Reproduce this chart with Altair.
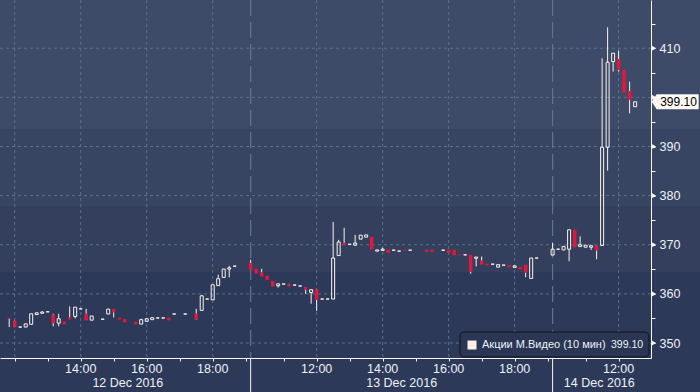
import altair as alt
import pandas as pd
import numpy as np

# ---------------- data ----------------
DAYS = ["12 Dec 2016", "13 Dec 2016", "14 Dec 2016"]
SESSION_OPEN = 10.0      # 10:00
DAY_SPAN = 9.15          # axis hours taken by one trading day (10:00-19:00 + gap)
X_DOMAIN = [1.706, 21.13]
Y_DOMAIN = [346.95, 419.82]

times_12 = ["11:50", "12:00", "12:10", "12:20", "12:30", "12:40", "12:50", "13:00", "13:10", "13:20",
            "13:30", "13:40", "13:50", "14:00", "14:10", "14:20", "14:40", "14:50", "15:00", "15:10",
            "15:20", "15:40", "15:50", "16:00", "16:10", "16:20", "16:30", "16:40", "16:50", "17:10",
            "17:30", "17:40", "17:50", "18:00", "18:10", "18:20", "18:30", "18:40"]
open_12 = [355.15, 354.55, 353.25, 353.25, 353.8, 355.8, 356.05, 356.35, 355.75, 354.05,
           354.4, 355.2, 355.4, 356.95, 355.95, 354.65, 354.85, 355.9, 356.9, 355.15,
           354.85, 354.35, 353.85, 354.4, 354.75, 355.1, 355.1, 355.15, 355.9, 355.9,
           355.95, 356.65, 358.95, 358.8, 361.7, 363.35, 365.05, 365.65]
high_12 = [355.15, 354.6, 353.25, 353.9, 355.95, 356.15, 356.5, 356.35, 355.95, 355.95,
           354.4, 357.45, 357.3, 356.95, 356.95, 355.5, 354.85, 356.9, 356.9, 355.15,
           354.85, 354.35, 354.95, 354.95, 355.15, 355.1, 355.1, 355.15, 355.9, 355.9,
           356.95, 359.8, 358.95, 361.85, 363.9, 365.05, 365.7, 365.65]
low_12 = [353.25, 353.15, 353.25, 353.25, 353.8, 355.8, 356.05, 356.35, 353.4, 353.4,
          353.8, 354.8, 355.0, 356.95, 354.6, 354.65, 354.85, 355.9, 355.2, 354.8,
          354.2, 353.8, 353.85, 354.4, 354.75, 355.1, 355.1, 354.6, 355.9, 355.9,
          354.75, 356.65, 358.95, 358.8, 361.7, 363.35, 363.35, 365.65]
close_12 = [354.95, 353.2, 353.25, 353.9, 355.95, 356.15, 356.3, 356.35, 354.05, 354.95,
            353.8, 354.8, 357.3, 356.95, 354.6, 355.5, 354.85, 356.9, 356.25, 354.8,
            354.2, 353.8, 354.75, 354.95, 355.15, 355.1, 355.1, 354.6, 355.9, 355.9,
            354.85, 359.6, 358.95, 361.85, 363.1, 365.05, 365.3, 365.65]

times_13 = ["10:00", "10:10", "10:20", "10:30", "10:40", "10:50", "11:00", "11:10", "11:20", "11:30",
            "11:40", "11:50", "12:00", "12:10", "12:20", "12:30", "12:40", "12:50", "13:00", "13:10",
            "13:20", "13:30", "13:40", "13:50", "14:00", "14:10", "14:20", "14:30", "14:40", "14:50",
            "15:20", "15:30", "15:50", "16:00", "16:10", "16:20", "16:30", "16:40", "16:50", "17:00",
            "17:10", "17:20", "17:30", "17:40", "17:50", "18:00", "18:10", "18:20", "18:30", "18:40"]
open_13 = [366.25, 365.1, 364.35, 363.7, 362.65, 361.65, 362.0, 361.9, 361.8, 361.6,
           361.4, 360.3, 360.95, 358.95, 358.95, 358.95, 367.8, 370.4, 370.1, 369.9,
           371.15, 371.55, 371.6, 368.7, 368.85, 369.0, 368.9, 368.7, 369.0, 368.9,
           369.0, 369.0, 368.9, 369.0, 369.0, 368.0, 367.95, 367.95, 367.25, 366.75,
           366.15, 366.05, 365.45, 365.85, 365.85, 365.4, 365.5, 365.95, 363.15, 367.3]
high_13 = [366.95, 365.1, 365.1, 363.7, 362.65, 362.05, 362.0, 362.05, 361.8, 361.6,
           361.4, 360.85, 360.95, 358.95, 358.95, 374.65, 371.0, 373.45, 370.1, 372.0,
           371.95, 372.0, 371.6, 368.95, 369.4, 369.0, 368.9, 368.7, 369.0, 368.9,
           369.0, 369.0, 368.9, 369.0, 369.0, 368.0, 367.95, 367.95, 367.5, 367.6,
           366.15, 366.05, 365.95, 365.85, 365.85, 365.7, 365.5, 365.95, 367.3, 367.3]
low_13 = [364.9, 364.15, 363.55, 362.85, 361.5, 361.3, 362.0, 361.5, 361.8, 361.6,
          360.0, 358.0, 356.55, 358.95, 358.95, 358.95, 367.8, 370.0, 370.1, 369.9,
          371.15, 371.55, 369.05, 368.7, 368.85, 368.35, 368.9, 368.7, 368.8, 368.9,
          368.55, 368.55, 368.9, 368.3, 367.85, 367.85, 367.95, 364.1, 365.6, 365.95,
          365.8, 366.05, 365.45, 365.85, 365.4, 365.4, 365.0, 363.4, 363.15, 367.3]
close_13 = [364.9, 364.15, 363.55, 362.85, 361.5, 362.05, 362.0, 361.5, 361.8, 361.6,
            360.85, 360.85, 358.8, 358.95, 358.95, 367.3, 370.55, 370.0, 370.1, 370.35,
            371.95, 372.0, 369.05, 368.95, 369.1, 368.35, 368.9, 368.7, 368.8, 368.9,
            368.55, 368.55, 368.9, 368.3, 367.85, 367.85, 367.95, 364.55, 367.5, 365.95,
            365.8, 366.05, 365.95, 365.85, 365.4, 365.7, 365.0, 364.35, 367.3, 367.3]

times_14 = ["10:00", "10:10", "10:20", "10:30", "10:40", "10:50", "11:00", "11:10", "11:20", "11:30",
            "11:40", "11:50", "12:00", "12:10", "12:20", "12:30"]
open_14 = [367.9, 369.1, 368.95, 369.1, 373.05, 369.65, 369.5, 369.5, 369.9, 369.85,
           389.85, 407.3, 407.8, 405.6, 401.3, 398.1]
high_14 = [370.35, 369.1, 369.65, 373.05, 373.05, 371.7, 369.9, 369.8, 369.9, 407.95,
           414.25, 409.0, 409.5, 405.6, 403.2, 399.1]
low_14 = [367.9, 369.1, 368.95, 366.65, 369.45, 369.65, 369.5, 368.95, 367.05, 369.85,
          385.1, 405.25, 405.25, 400.95, 396.75, 398.1]
close_14 = [369.1, 369.1, 369.65, 373.05, 369.45, 370.0, 369.9, 369.8, 368.85, 389.85,
            407.15, 409.0, 405.6, 400.95, 399.5, 399.1]

Y_TICKS = [350, 355, 360, 365, 370, 375, 380, 385, 390, 395, 400, 405, 410, 415]
Y_GRID = [350, 360, 370, 380, 390, 400, 410]
GRID_HOURS = ["12:00", "14:00", "16:00", "18:00"]
LABEL_HOURS = [["14:00", "16:00", "18:00"], ["12:00", "14:00", "16:00", "18:00"], ["12:00"]]
TICK_HOURS = [["12:00", "13:00", "14:00", "15:00", "16:00", "17:00", "18:00", "19:00"],
              ["11:00", "12:00", "13:00", "14:00", "15:00", "16:00", "17:00", "18:00", "19:00"],
              ["11:00", "12:00"]]
SERIES_NAME = "Акции М.Видео (10 мин)"

# ---------------- styles ----------------
WHITE = "#fdf4ee"
RED = "#e3173e"
GRID = "#55728e"
LABEL = "#eef1f6"
FONT = "Liberation Sans"
BG_BANDS = [(0.0, 0.33, "#3d4a68"), (0.33, 0.525, "#384562"),
            (0.525, 0.695, "#333f5d"), (0.695, 1.0, "#2d3958")]


def pos_of(day, hhmm):
    h, m = hhmm.split(":")
    return day * DAY_SPAN + int(h) + int(m) / 60.0 - SESSION_OPEN


rows = []
for d, (t, o, h, l, c) in enumerate([(times_12, open_12, high_12, low_12, close_12),
                                     (times_13, open_13, high_13, low_13, close_13),
                                     (times_14, open_14, high_14, low_14, close_14)]):
    for ti, oi, hi, li, ci in zip(t, o, h, l, c):
        rows.append(dict(day=DAYS[d], time=ti, pos=pos_of(d, ti),
                         open=oi, high=hi, low=li, close=ci))
df = pd.DataFrame(rows)
df["top"] = df[["open", "close"]].max(axis=1)
df["bot"] = df[["open", "close"]].min(axis=1)
up = df[df.close >= df.open]
down = df[df.close < df.open]

grid_x = pd.DataFrame({"pos": [pos_of(d, h) for d in range(3) for h in GRID_HOURS
                               if X_DOMAIN[0] <= pos_of(d, h) <= X_DOMAIN[1]]})
tick_x = [pos_of(d, h) for d in range(3) for h in TICK_HOURS[d]]
hour_lab = pd.DataFrame([{"pos": pos_of(d, h), "lab": h} for d in range(3) for h in LABEL_HOURS[d]])
day_starts = [pos_of(d, "10:00") for d in range(3)]
sep = pd.DataFrame({"pos": day_starts[1:]})
bounds = [max(day_starts[0], X_DOMAIN[0]), day_starts[1], day_starts[2], X_DOMAIN[1]]
date_lab = pd.DataFrame({"pos": [(bounds[i] + bounds[i + 1]) / 2 for i in range(3)], "lab": DAYS})
last_price = close_14[-1]
last = pd.DataFrame({"v": [last_price]})
one = pd.DataFrame({"a": [0]})

XS = alt.Scale(domain=X_DOMAIN, nice=False, zero=False)
YS = alt.Scale(domain=Y_DOMAIN, nice=False, zero=False)
XAX = alt.Axis(values=tick_x, labels=False, tickSize=3, tickColor=WHITE, domainColor=WHITE,
               domainWidth=1, grid=False, title=None, zindex=1)
# the last-price tag covers the axis label it sits on
YAX = alt.Axis(orient="right", values=Y_TICKS,
               labelExpr=f"datum.value % 10 == 0 && abs(datum.value - {last_price}) > 3 ? datum.label : ''",
               tickSize=4, tickColor=WHITE, domainColor=WHITE, domainWidth=1, labelColor=LABEL,
               labelFont=FONT, labelFontSize=12.5, labelPadding=4, grid=False, title=None, zindex=1)


def X(f):
    return alt.X(f, type="quantitative", scale=XS, axis=XAX)


def Y(f):
    return alt.Y(f, type="quantitative", scale=YS, axis=YAX)


stops = []
for a, b, col in BG_BANDS:
    stops += [alt.GradientStop(offset=a, color=col), alt.GradientStop(offset=b, color=col)]
bg = alt.Chart(one).mark_rect(
    fill=alt.Gradient(gradient="linear", x1=0, y1=0, x2=0, y2=1, stops=stops)
).encode(x=alt.value(0), x2=alt.value(700), y=alt.value(0), y2=alt.value(392))

hgrid = alt.Chart(pd.DataFrame({"v": Y_GRID})).mark_rule(
    color=GRID, strokeDash=[3, 3], strokeWidth=1).encode(y=Y("v"))
vgrid = alt.Chart(grid_x).mark_rule(color=GRID, strokeDash=[3, 3], strokeWidth=1).encode(x=X("pos"))
sep_in = alt.Chart(sep).mark_rule(color="#5e7595", strokeDash=[16, 6], strokeWidth=1.2).encode(x=X("pos"))
sep_out = alt.Chart(sep).mark_rule(color=WHITE, strokeWidth=1).encode(
    x=X("pos"), y=alt.value(358), y2=alt.value(392))

wick_hi = alt.Chart(df).mark_rule(color=WHITE, strokeWidth=1).encode(x=X("pos"), y=Y("top"), y2="high")
wick_lo = alt.Chart(df).mark_rule(color=WHITE, strokeWidth=1).encode(x=X("pos"), y=Y("low"), y2="bot")
body_dn = alt.Chart(down).mark_bar(size=3.5, color=RED, opacity=1).encode(
    x=X("pos"), y=Y("open"), y2="close")
body_up = alt.Chart(up).mark_bar(size=3, filled=False, color=WHITE, strokeWidth=1, opacity=1).encode(
    x=X("pos"), y=Y("open"), y2="close")

tri = alt.Chart(pd.DataFrame({"v": Y_GRID})).mark_point(
    shape="triangle-right", size=26, filled=True, color=WHITE, opacity=1).encode(
    x=alt.value(654), y=Y("v"))

hour_text = alt.Chart(hour_lab).mark_text(
    font=FONT, fontSize=12.5, color=LABEL, align="center", baseline="middle").encode(
    x=X("pos"), y=alt.value(369), text="lab:N")
date_text = alt.Chart(date_lab).mark_text(
    font=FONT, fontSize=12.5, color=LABEL, align="center", baseline="middle").encode(
    x=X("pos"), y=alt.value(383), text="lab:N")

tag = alt.Chart(last).mark_point(
    shape="M-1,0L-0.79,-0.32L1,-0.32L1,0.32L-0.79,0.32Z", size=2209, filled=True,
    color="#fffaf4", opacity=1, strokeWidth=0).encode(x=alt.value(675.2), y=Y("v"))
tag_text = alt.Chart(last).mark_text(
    font=FONT, fontSize=12, color="#000000", align="center", baseline="middle").encode(
    x=alt.value(678.5), y=Y("v"), text=alt.Text("v:Q", format=".2f"))

leg_box = alt.Chart(one).mark_rect(cornerRadius=4, fill="#2a3654", stroke="#0d1220", strokeWidth=1).encode(
    x=alt.value(460), x2=alt.value(649), y=alt.value(332), y2=alt.value(357))
leg_sw = alt.Chart(one).mark_rect(fill="#fdeee8").encode(
    x=alt.value(467.5), x2=alt.value(476.5), y=alt.value(340.5), y2=alt.value(349.5))
leg_name = alt.Chart(one).mark_text(
    font=FONT, fontSize=11, color=LABEL, align="left", baseline="middle", text=SERIES_NAME).encode(
    x=alt.value(482), y=alt.value(345))
leg_val = alt.Chart(last).mark_text(
    font=FONT, fontSize=10.5, color=LABEL, align="left", baseline="middle").encode(
    x=alt.value(611), y=alt.value(345), text=alt.Text("v:Q", format=".2f"))

chart = alt.layer(
    bg, hgrid, vgrid, sep_in, sep_out, leg_box, wick_hi, wick_lo, body_dn, body_up,
    tri, hour_text, date_text, tag, tag_text, leg_sw, leg_name, leg_val
).properties(
    width=651, height=358, background="#2b3756",
    padding={"left": 0, "top": 0, "right": 49, "bottom": 34},
    autosize=alt.AutoSizeParams(type="none"),
).configure_view(stroke=None)

chart.save("out.html", embed_options={"renderer": "svg", "actions": False})
